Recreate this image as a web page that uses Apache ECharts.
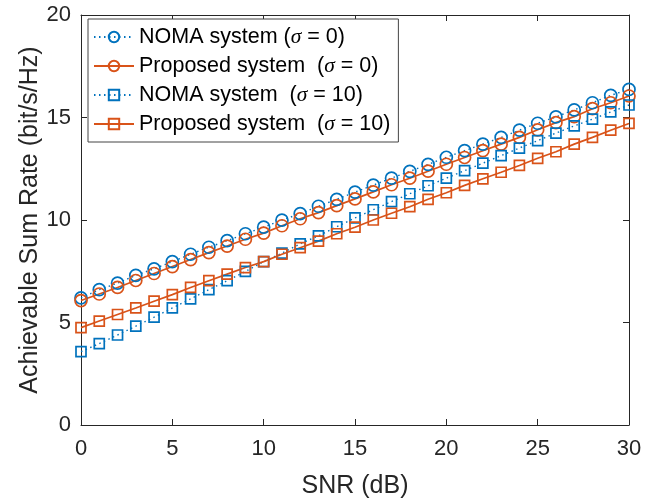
<!DOCTYPE html>
<html><head><meta charset="utf-8">
<script src="https://cdn.jsdelivr.net/npm/echarts@6/dist/echarts.min.js"></script>
<style>html,body{margin:0;padding:0;background:#fff}#c{width:655px;height:504px}</style>
</head><body><div id="c"></div>
<script>
const snr = [0,1,2,3,4,5,6,7,8,9,10,11,12,13,14,15,16,17,18,19,20,21,22,23,24,25,26,27,28,29,30];
const noma0 = [6.2,6.6,6.92,7.3,7.62,7.97,8.33,8.67,8.99,9.33,9.65,9.99,10.31,10.67,11.01,11.36,11.7,12.04,12.37,12.71,13.06,13.38,13.7,14.03,14.38,14.72,15.03,15.37,15.72,16.08,16.37];
const prop0 = [6.07,6.39,6.71,7.05,7.39,7.73,8.07,8.41,8.73,9.06,9.36,9.72,10.06,10.36,10.7,11.03,11.37,11.72,12.04,12.38,12.72,13.05,13.38,13.7,14.03,14.4,14.75,15.04,15.43,15.72,16.05];
const noma10 = [3.58,3.97,4.39,4.82,5.26,5.71,6.15,6.6,7.04,7.49,7.97,8.38,8.84,9.23,9.67,10.1,10.5,10.9,11.28,11.67,12.04,12.41,12.77,13.14,13.51,13.87,14.24,14.59,14.92,15.27,15.61];
const prop10 = [4.75,5.07,5.39,5.71,6.04,6.36,6.71,7.04,7.36,7.68,7.97,8.33,8.65,8.97,9.33,9.65,10.0,10.33,10.65,11.01,11.33,11.69,12.01,12.33,12.66,13.01,13.33,13.7,14.03,14.38,14.71];
const names = ['NOMA system (σ = 0)','Proposed system  (σ = 0)','NOMA system  (σ = 10)','Proposed system  (σ = 10)'];
const xTicks = [0,5,10,15,20,25,30];
const yTicks = [0,5,10,15,20];

const FONT = 'Liberation Sans, Arial, Helvetica, sans-serif';
const BLUE = '#0072BD', ORANGE = '#D95319', AX = '#262626';
const pairs = ys => snr.map((x,i)=>[x, ys[i]]);

function mk(name, ys, color, symbol, size, dotted){
  return {
    name, type:'line', data: pairs(ys), symbol, symbolSize:size, showSymbol:true,
    lineStyle:{color, width: dotted?1.4:1.7, type: dotted?[1.5,3.5]:'solid'},
    itemStyle:{color:'rgba(255,255,255,0)', borderColor:color, borderWidth:1.7},
    emphasis:{disabled:true}, animation:false, clip:false
  };
}
const axBase = {
  type:'value', splitLine:{show:false},
  axisLine:{show:true, onZero:false, lineStyle:{color:AX, width:1}},
  axisTick:{show:true, inside:true, length:6, lineStyle:{color:AX, width:1}},
};
const chart = echarts.init(document.getElementById('c'), null, {renderer:'canvas'});
chart.setOption({
  backgroundColor:'#fff',
  animation:false,
  grid:{left:81, right:26, top:15, bottom:76, containLabel:false},
  xAxis:[
    Object.assign({}, axBase, {position:'bottom', min:xTicks[0], max:xTicks[xTicks.length-1], interval:xTicks[1]-xTicks[0],
      axisLabel:{fontSize:22, color:AX, margin:13, fontFamily:FONT},
      name:'SNR (dB)', nameLocation:'middle', nameGap:49, nameMoveOverlap:false,
      nameTextStyle:{fontSize:25, color:AX, fontFamily:FONT}}),
    Object.assign({}, axBase, {position:'top', min:xTicks[0], max:xTicks[xTicks.length-1], interval:xTicks[1]-xTicks[0], axisLabel:{show:false}})
  ],
  yAxis:[
    Object.assign({}, axBase, {position:'left', min:yTicks[0], max:yTicks[yTicks.length-1], interval:yTicks[1]-yTicks[0],
      axisLabel:{fontSize:22, color:AX, margin:10, fontFamily:FONT},
      name:'Achievable Sum Rate (bit/s/Hz)', nameLocation:'middle', nameGap:38, nameMoveOverlap:false,
      nameTextStyle:{fontSize:25, color:AX, fontFamily:FONT}}),
    Object.assign({}, axBase, {position:'right', min:yTicks[0], max:yTicks[yTicks.length-1], interval:yTicks[1]-yTicks[0], axisLabel:{show:false}})
  ],
  legend:{
    orient:'vertical', left:88, top:19, data:names,
    backgroundColor:'#fff', borderColor:'#444', borderWidth:1,
    padding:[7,8,7,5], itemGap:7, itemWidth:40, itemHeight:13,
    textStyle:{fontSize:21.5, color:'#000', fontFamily:FONT,
      rich:{i:{fontSize:21.5, fontStyle:'italic', fontFamily:'Liberation Serif, serif', color:'#000'}}},
    formatter: n => n.replace('σ','{i|σ}'),
    selectedMode:false
  },
  series:[
    mk(names[0], noma0, BLUE, 'circle', 12, true),
    mk(names[1], prop0, ORANGE, 'circle', 12, false),
    mk(names[2], noma10, BLUE, 'rect', 10, true),
    mk(names[3], prop10, ORANGE, 'rect', 10, false)
  ]
});
</script></body></html>
